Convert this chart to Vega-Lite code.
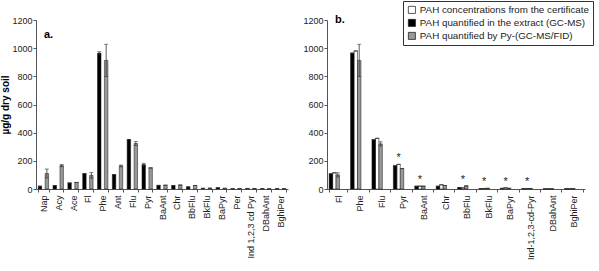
{
  "$schema": "https://vega.github.io/schema/vega-lite/v6.json",
  "padding": {"left": 0, "top": 0, "right": 0, "bottom": 0},
  "config": {
    "font": "Liberation Sans",
    "view": {"stroke": null},
    "axis": {"grid": false, "domainColor": "#555", "tickColor": "#555", "labelColor": "#222", "labelFontSize": 9, "tickSize": 3, "labelPadding": 1, "labelFont": "Liberation Sans"},
    "concat": {"spacing": 14}
  },
  "datasets": {
    "pah": [
      {"panel": "a", "compound": "Nap", "series": "PAH quantified in the extract (GC-MS)", "value": 20, "err": 0},
      {"panel": "a", "compound": "Nap", "series": "PAH quantified by Py-(GC-MS/FID)", "value": 110, "err": 32},
      {"panel": "a", "compound": "Acy", "series": "PAH quantified in the extract (GC-MS)", "value": 24, "err": 0},
      {"panel": "a", "compound": "Acy", "series": "PAH quantified by Py-(GC-MS/FID)", "value": 166, "err": 8},
      {"panel": "a", "compound": "Ace", "series": "PAH quantified in the extract (GC-MS)", "value": 43, "err": 0},
      {"panel": "a", "compound": "Ace", "series": "PAH quantified by Py-(GC-MS/FID)", "value": 47, "err": 0},
      {"panel": "a", "compound": "Fl", "series": "PAH quantified in the extract (GC-MS)", "value": 109, "err": 0},
      {"panel": "a", "compound": "Fl", "series": "PAH quantified by Py-(GC-MS/FID)", "value": 97, "err": 20},
      {"panel": "a", "compound": "Phe", "series": "PAH quantified in the extract (GC-MS)", "value": 965, "err": 10},
      {"panel": "a", "compound": "Phe", "series": "PAH quantified by Py-(GC-MS/FID)", "value": 913, "err": 115},
      {"panel": "a", "compound": "Ant", "series": "PAH quantified in the extract (GC-MS)", "value": 102, "err": 0},
      {"panel": "a", "compound": "Ant", "series": "PAH quantified by Py-(GC-MS/FID)", "value": 164, "err": 6},
      {"panel": "a", "compound": "Flu", "series": "PAH quantified in the extract (GC-MS)", "value": 351, "err": 0},
      {"panel": "a", "compound": "Flu", "series": "PAH quantified by Py-(GC-MS/FID)", "value": 323, "err": 15},
      {"panel": "a", "compound": "Pyr", "series": "PAH quantified in the extract (GC-MS)", "value": 173, "err": 10},
      {"panel": "a", "compound": "Pyr", "series": "PAH quantified by Py-(GC-MS/FID)", "value": 150, "err": 0},
      {"panel": "a", "compound": "BaAnt", "series": "PAH quantified in the extract (GC-MS)", "value": 26, "err": 0},
      {"panel": "a", "compound": "BaAnt", "series": "PAH quantified by Py-(GC-MS/FID)", "value": 27, "err": 0},
      {"panel": "a", "compound": "Chr", "series": "PAH quantified in the extract (GC-MS)", "value": 24, "err": 0},
      {"panel": "a", "compound": "Chr", "series": "PAH quantified by Py-(GC-MS/FID)", "value": 28, "err": 0},
      {"panel": "a", "compound": "BbFlu", "series": "PAH quantified in the extract (GC-MS)", "value": 15, "err": 0},
      {"panel": "a", "compound": "BbFlu", "series": "PAH quantified by Py-(GC-MS/FID)", "value": 25, "err": 0},
      {"panel": "a", "compound": "BkFlu", "series": "PAH quantified in the extract (GC-MS)", "value": 5, "err": 0},
      {"panel": "a", "compound": "BkFlu", "series": "PAH quantified by Py-(GC-MS/FID)", "value": 6, "err": 0},
      {"panel": "a", "compound": "BaPyr", "series": "PAH quantified in the extract (GC-MS)", "value": 9, "err": 0},
      {"panel": "a", "compound": "BaPyr", "series": "PAH quantified by Py-(GC-MS/FID)", "value": 5, "err": 0},
      {"panel": "a", "compound": "Per", "series": "PAH quantified in the extract (GC-MS)", "value": 2, "err": 0},
      {"panel": "a", "compound": "Per", "series": "PAH quantified by Py-(GC-MS/FID)", "value": 2, "err": 0},
      {"panel": "a", "compound": "Ind 1,2,3 cd Pyr", "series": "PAH quantified in the extract (GC-MS)", "value": 4, "err": 0},
      {"panel": "a", "compound": "Ind 1,2,3 cd Pyr", "series": "PAH quantified by Py-(GC-MS/FID)", "value": 3, "err": 0},
      {"panel": "a", "compound": "DBahAnt", "series": "PAH quantified in the extract (GC-MS)", "value": 2, "err": 0},
      {"panel": "a", "compound": "DBahAnt", "series": "PAH quantified by Py-(GC-MS/FID)", "value": 1, "err": 0},
      {"panel": "a", "compound": "BghiPer", "series": "PAH quantified in the extract (GC-MS)", "value": 2, "err": 0},
      {"panel": "a", "compound": "BghiPer", "series": "PAH quantified by Py-(GC-MS/FID)", "value": 2, "err": 0},

      {"panel": "b", "compound": "Fl", "series": "PAH concentrations from the certificate", "value": 115, "err": 0},
      {"panel": "b", "compound": "Fl", "series": "PAH quantified in the extract (GC-MS)", "value": 108, "err": 0},
      {"panel": "b", "compound": "Fl", "series": "PAH quantified by Py-(GC-MS/FID)", "value": 100, "err": 15},
      {"panel": "b", "compound": "Phe", "series": "PAH concentrations from the certificate", "value": 980, "err": 0},
      {"panel": "b", "compound": "Phe", "series": "PAH quantified in the extract (GC-MS)", "value": 965, "err": 0},
      {"panel": "b", "compound": "Phe", "series": "PAH quantified by Py-(GC-MS/FID)", "value": 913, "err": 115},
      {"panel": "b", "compound": "Flu", "series": "PAH concentrations from the certificate", "value": 360, "err": 0},
      {"panel": "b", "compound": "Flu", "series": "PAH quantified in the extract (GC-MS)", "value": 350, "err": 0},
      {"panel": "b", "compound": "Flu", "series": "PAH quantified by Py-(GC-MS/FID)", "value": 320, "err": 15},
      {"panel": "b", "compound": "Pyr", "series": "PAH concentrations from the certificate", "value": 175, "err": 0},
      {"panel": "b", "compound": "Pyr", "series": "PAH quantified in the extract (GC-MS)", "value": 165, "err": 0},
      {"panel": "b", "compound": "Pyr", "series": "PAH quantified by Py-(GC-MS/FID)", "value": 145, "err": 0},
      {"panel": "b", "compound": "BaAnt", "series": "PAH concentrations from the certificate", "value": 20, "err": 0},
      {"panel": "b", "compound": "BaAnt", "series": "PAH quantified in the extract (GC-MS)", "value": 20, "err": 0},
      {"panel": "b", "compound": "BaAnt", "series": "PAH quantified by Py-(GC-MS/FID)", "value": 20, "err": 0},
      {"panel": "b", "compound": "Chr", "series": "PAH concentrations from the certificate", "value": 30, "err": 0},
      {"panel": "b", "compound": "Chr", "series": "PAH quantified in the extract (GC-MS)", "value": 20, "err": 0},
      {"panel": "b", "compound": "Chr", "series": "PAH quantified by Py-(GC-MS/FID)", "value": 25, "err": 0},
      {"panel": "b", "compound": "BbFlu", "series": "PAH concentrations from the certificate", "value": 8, "err": 0},
      {"panel": "b", "compound": "BbFlu", "series": "PAH quantified in the extract (GC-MS)", "value": 10, "err": 0},
      {"panel": "b", "compound": "BbFlu", "series": "PAH quantified by Py-(GC-MS/FID)", "value": 22, "err": 0},
      {"panel": "b", "compound": "BkFlu", "series": "PAH concentrations from the certificate", "value": 4, "err": 0},
      {"panel": "b", "compound": "BkFlu", "series": "PAH quantified in the extract (GC-MS)", "value": 3, "err": 0},
      {"panel": "b", "compound": "BkFlu", "series": "PAH quantified by Py-(GC-MS/FID)", "value": 5, "err": 0},
      {"panel": "b", "compound": "BaPyr", "series": "PAH concentrations from the certificate", "value": 8, "err": 0},
      {"panel": "b", "compound": "BaPyr", "series": "PAH quantified in the extract (GC-MS)", "value": 5, "err": 0},
      {"panel": "b", "compound": "BaPyr", "series": "PAH quantified by Py-(GC-MS/FID)", "value": 5, "err": 0},
      {"panel": "b", "compound": "Ind-1,2,3-cd-Pyr", "series": "PAH concentrations from the certificate", "value": 3, "err": 0},
      {"panel": "b", "compound": "Ind-1,2,3-cd-Pyr", "series": "PAH quantified in the extract (GC-MS)", "value": 3, "err": 0},
      {"panel": "b", "compound": "Ind-1,2,3-cd-Pyr", "series": "PAH quantified by Py-(GC-MS/FID)", "value": 4, "err": 0},
      {"panel": "b", "compound": "DBahAnt", "series": "PAH concentrations from the certificate", "value": 1, "err": 0},
      {"panel": "b", "compound": "DBahAnt", "series": "PAH quantified in the extract (GC-MS)", "value": 1, "err": 0},
      {"panel": "b", "compound": "DBahAnt", "series": "PAH quantified by Py-(GC-MS/FID)", "value": 1, "err": 0},
      {"panel": "b", "compound": "BghiPer", "series": "PAH concentrations from the certificate", "value": 2, "err": 0},
      {"panel": "b", "compound": "BghiPer", "series": "PAH quantified in the extract (GC-MS)", "value": 2, "err": 0},
      {"panel": "b", "compound": "BghiPer", "series": "PAH quantified by Py-(GC-MS/FID)", "value": 2, "err": 0}
    ],
    "stars": [
      {"compound": "Pyr", "series": "PAH concentrations from the certificate", "top": 175},
      {"compound": "BaAnt", "series": "PAH concentrations from the certificate", "top": 20},
      {"compound": "BbFlu", "series": "PAH concentrations from the certificate", "top": 22},
      {"compound": "BkFlu", "series": "PAH concentrations from the certificate", "top": 5},
      {"compound": "BaPyr", "series": "PAH concentrations from the certificate", "top": 8},
      {"compound": "Ind-1,2,3-cd-Pyr", "series": "PAH concentrations from the certificate", "top": 4}
    ]
  },
  "resolve": {"scale": {"color": "independent"}},
  "hconcat": [
    {
      "width": 252,
      "height": 169,
      "title": {"text": "a.", "anchor": "start", "frame": "group", "dx": 8, "offset": -24, "fontSize": 11, "fontWeight": "bold", "font": "Liberation Sans"},
      "data": {"name": "pah"},
      "transform": [{"filter": "datum.panel === 'a'"}],
      "encoding": {
        "x": {
          "field": "compound", "type": "nominal",
          "sort": ["Nap", "Acy", "Ace", "Fl", "Phe", "Ant", "Flu", "Pyr", "BaAnt", "Chr", "BbFlu", "BkFlu", "BaPyr", "Per", "Ind 1,2,3 cd Pyr", "DBahAnt", "BghiPer"],
          "scale": {"paddingInner": 0.3, "paddingOuter": 0.15},
          "axis": {"title": null, "labelAngle": -90, "tickBand": "extent", "labelPadding": 3}
        },
        "xOffset": {"field": "series", "type": "nominal", "sort": ["PAH quantified in the extract (GC-MS)", "PAH quantified by Py-(GC-MS/FID)"]},
        "y": {
          "field": "value", "type": "quantitative",
          "scale": {"domain": [0, 1200]},
          "axis": {"values": [0, 200, 400, 600, 800, 1000, 1200], "format": "d", "title": "µg/g dry soil", "titleFontSize": 10, "titleFontWeight": "bold", "titlePadding": 1}
        }
      },
      "layer": [
        {
          "mark": {"type": "bar", "stroke": "#111", "strokeWidth": 0.5},
          "encoding": {
            "color": {
              "field": "series", "type": "nominal",
              "scale": {"domain": ["PAH concentrations from the certificate", "PAH quantified in the extract (GC-MS)", "PAH quantified by Py-(GC-MS/FID)"], "range": ["#ffffff", "#000000", "#999999"]},
              "legend": null
            }
          }
        },
        {
          "mark": {"type": "errorbar", "ticks": {"size": 4}, "color": "#333", "thickness": 0.8},
          "encoding": {"yError": {"field": "err"}}
        }
      ]
    },
    {
      "width": 258,
      "height": 169,
      "title": {"text": "b.", "anchor": "start", "frame": "group", "dx": 8, "offset": -24, "fontSize": 11, "fontWeight": "bold", "font": "Liberation Sans"},
      "layer": [
        {
          "data": {"name": "pah"},
          "transform": [{"filter": "datum.panel === 'b'"}],
          "layer": [
            {
              "mark": {"type": "bar", "stroke": "#111", "strokeWidth": 0.5},
              "encoding": {
                "color": {
                  "field": "series", "type": "nominal",
                  "scale": {"domain": ["PAH concentrations from the certificate", "PAH quantified in the extract (GC-MS)", "PAH quantified by Py-(GC-MS/FID)"], "range": ["#ffffff", "#000000", "#999999"]},
                  "legend": {
                    "title": null, "orient": "none", "legendX": 76, "legendY": -19,
                    "strokeColor": "#333", "padding": 4, "symbolType": "square", "symbolSize": 50,
                    "symbolStrokeColor": "#111", "symbolStrokeWidth": 0.7, "labelFontSize": 9.8, "labelFont": "Liberation Sans",
                    "labelColor": "#222", "rowPadding": 2, "labelLimit": 300, "labelOffset": 3
                  }
                }
              }
            },
            {
              "mark": {"type": "errorbar", "ticks": {"size": 4}, "color": "#333", "thickness": 0.8},
              "encoding": {"yError": {"field": "err"}}
            }
          ]
        },
        {
          "data": {"name": "stars"},
          "mark": {"type": "text", "text": "*", "fontSize": 11, "baseline": "bottom", "dy": -1, "fill": "#222", "stroke": null},
          "encoding": {"y": {"field": "top", "type": "quantitative"}}
        }
      ],
      "encoding": {
        "x": {
          "field": "compound", "type": "nominal",
          "sort": ["Fl", "Phe", "Flu", "Pyr", "BaAnt", "Chr", "BbFlu", "BkFlu", "BaPyr", "Ind-1,2,3-cd-Pyr", "DBahAnt", "BghiPer"],
          "scale": {"paddingInner": 0.15, "paddingOuter": 0.1},
          "axis": {"title": null, "labelAngle": -90, "tickBand": "extent", "labelPadding": 3}
        },
        "xOffset": {"field": "series", "type": "nominal", "sort": ["PAH concentrations from the certificate", "PAH quantified in the extract (GC-MS)", "PAH quantified by Py-(GC-MS/FID)"]},
        "y": {
          "field": "value", "type": "quantitative",
          "scale": {"domain": [0, 1200]},
          "axis": {"values": [0, 200, 400, 600, 800, 1000, 1200], "format": "d", "title": null}
        }
      }
    }
  ]
}
